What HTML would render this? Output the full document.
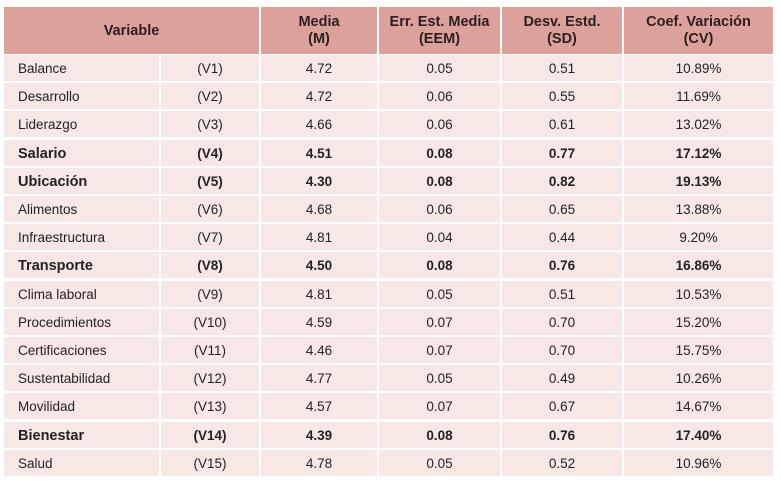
<!DOCTYPE html>
<html><head><meta charset="utf-8"><style>
body{margin:0;width:781px;height:485px;background:#fff;font-family:"Liberation Sans",sans-serif;color:#222;position:relative;overflow:hidden}
.c{position:absolute;display:flex;align-items:center;justify-content:center;font-size:13.5px;box-sizing:border-box;padding-top:1px}
.h{background:#dda19c;font-weight:bold;font-size:14.5px;text-align:center;line-height:17px;color:#2a1f1f}
.b{background:#f7e8e5}
.l{justify-content:flex-start;padding-left:14px}
.bo{font-weight:bold}
</style></head><body>
<div class="c h" style="left:4px;top:7px;width:255px;height:47px">Variable</div>
<div class="c h" style="left:261px;top:7px;width:116px;height:47px">Media<br>(M)</div>
<div class="c h" style="left:379px;top:7px;width:121px;height:47px">Err. Est. Media<br>(EEM)</div>
<div class="c h" style="left:502px;top:7px;width:120px;height:47px">Desv. Estd.<br>(SD)</div>
<div class="c h" style="left:624px;top:7px;width:149px;height:47px">Coef. Variación<br>(CV)</div>
<div id="rows"></div>
<script>
const d=[["Balance","V1","4.72","0.05","0.51","10.89%"],["Desarrollo","V2","4.72","0.06","0.55","11.69%"],["Liderazgo","V3","4.66","0.06","0.61","13.02%"],["Salario","V4","4.51","0.08","0.77","17.12%",1],["Ubicación","V5","4.30","0.08","0.82","19.13%",1],["Alimentos","V6","4.68","0.06","0.65","13.88%"],["Infraestructura","V7","4.81","0.04","0.44","9.20%"],["Transporte","V8","4.50","0.08","0.76","16.86%",1],["Clima laboral","V9","4.81","0.05","0.51","10.53%"],["Procedimientos","V10","4.59","0.07","0.70","15.20%"],["Certificaciones","V11","4.46","0.07","0.70","15.75%"],["Sustentabilidad","V12","4.77","0.05","0.49","10.26%"],["Movilidad","V13","4.57","0.07","0.67","14.67%"],["Bienestar","V14","4.39","0.08","0.76","17.40%",1],["Salud","V15","4.78","0.05","0.52","10.96%"]];
const cols=[[4,155],[161,98],[261,116],[379,121],[502,120],[624,149]];
let h="";
d.forEach((r,i)=>{const t=Math.round(55+i*28.2);
cols.forEach((c,j)=>{let txt=j==1?"("+r[1]+")":r[j];
h+=`<div class="c b${j==0?" l":""}${r[6]?" bo":""}" style="left:${c[0]}px;top:${t}px;width:${c[1]}px;height:26px;${r[6]&&j==0?"font-size:14.5px":""}">${txt}</div>`;});});
document.getElementById("rows").innerHTML=h;
</script>
</body></html>
